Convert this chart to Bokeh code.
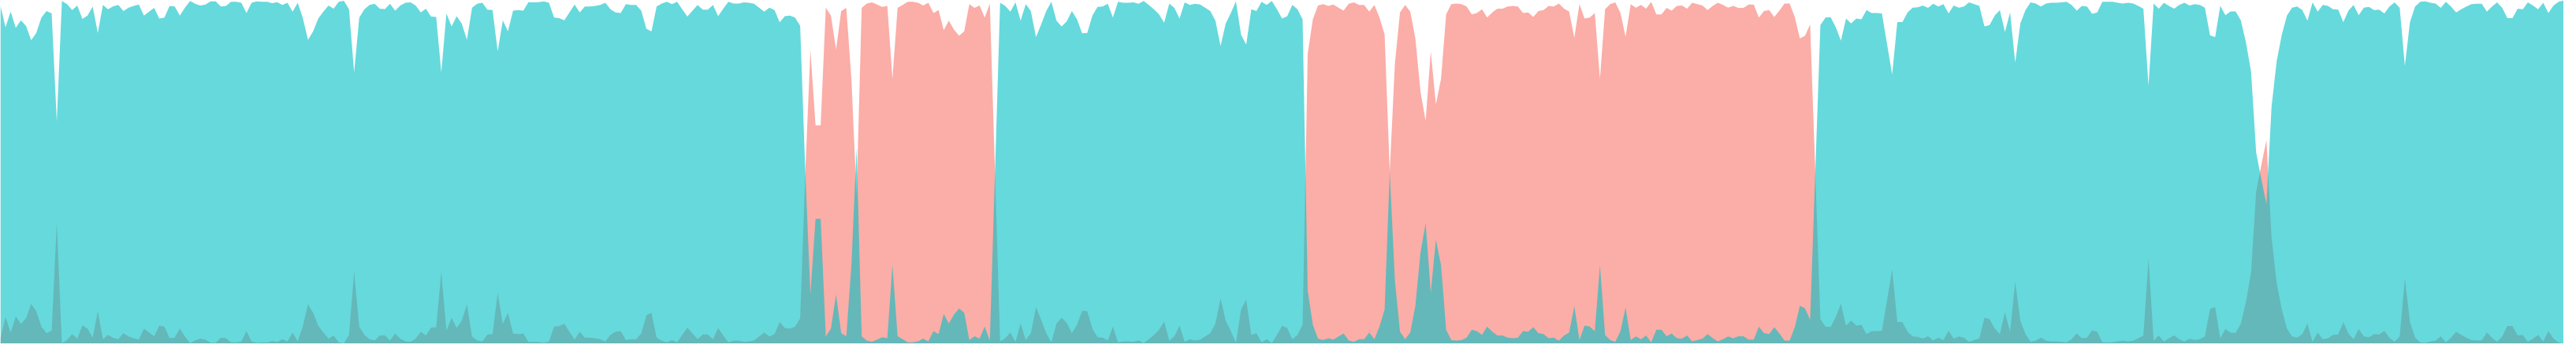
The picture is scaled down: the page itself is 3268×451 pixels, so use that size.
from bokeh.plotting import figure
from bokeh.models import ColumnDataSource, Range1d
from bokeh.embed import file_html
from bokeh.resources import INLINE

# Probability of the salmon class per sample
salmon = [
    .015,.078,.033,.080,.058,.074,.116,.095,.050,.031,
    .038,.353,.002,.011,.028,.015,.054,.044,.018,.095,
    .013,.026,.017,.013,.031,.021,.016,.012,.044,.033,
    .022,.053,.050,.016,.018,.044,.021,.002,.010,.015,
    .012,.003,.003,.018,.016,.004,.004,.007,.037,.007,
    .003,.004,.004,.008,.005,.013,.007,.033,.007,.052,
    .115,.090,.053,.033,.015,.024,.004,.001,.026,.210,
    .050,.026,.013,.010,.024,.025,.010,.030,.015,.007,
    .006,.015,.035,.024,.047,.048,.210,.038,.076,.046,
    .068,.115,.021,.010,.007,.027,.028,.148,.058,.090,
    .030,.028,.030,.005,.006,.005,.003,.007,.050,.052,
    .058,.035,.012,.035,.018,.018,.016,.013,.007,.026,
    .035,.037,.011,.013,.013,.030,.083,.090,.018,.009,
    .004,.011,.004,.026,.047,.030,.013,.027,.027,.013,
    .046,.024,.004,.009,.009,.006,.007,.010,.021,.033,
    .021,.028,.064,.046,.044,.050,.074,.500,.856,.636,
    .636,.979,.956,.857,.969,.978,.770,.430,.978,.991,
    .994,.988,.981,.984,.771,.978,.987,.996,.996,.993,
    .985,.993,.963,.972,.913,.941,.915,.897,.910,.989,
    .978,.985,.950,.991,.500,.007,.016,.033,.006,.059,
    .011,.031,.107,.070,.031,.004,.059,.076,.061,.031,
    .055,.096,.095,.044,.019,.018,.010,.050,.004,.007,
    .007,.006,.010,.002,.013,.026,.041,.065,.009,.022,
    .053,.006,.013,.010,.012,.021,.031,.059,.133,.068,
    .037,.003,.100,.129,.026,.031,.004,.013,.002,.026,
    .053,.046,.013,.026,.055,.845,.945,.985,.989,.984,
    .988,.979,.970,.990,.994,.987,.987,.967,.987,.950,
    .900,.500,.815,.965,.987,.967,.889,.734,.649,.852,
    .697,.771,.959,.989,.991,.989,.982,.959,.963,.974,
    .950,.965,.976,.976,.982,.984,.982,.963,.965,.952,
    .969,.972,.984,.982,.991,.976,.967,.891,.989,.947,
    .950,.963,.771,.974,.989,.994,.963,.894,.989,.979,
    .987,.976,.996,.959,.959,.978,.970,.984,.985,.976,
    .993,.989,.985,.972,.984,.993,.987,.979,.984,.978,
    .978,.988,.988,.950,.969,.972,.952,.970,.991,.991,
    .952,.889,.897,.930,.500,.072,.050,.049,.078,.117,
    .053,.067,.053,.055,.028,.037,.037,.038,.127,.216,
    .063,.063,.035,.021,.020,.015,.022,.010,.018,.011,
    .038,.015,.021,.018,.006,.011,.016,.076,.072,.044,
    .028,.092,.035,.181,.067,.028,.006,.009,.018,.009,
    .007,.007,.006,.004,.013,.030,.016,.018,.039,.035,
    .004,.004,.004,.007,.009,.007,.009,.016,.024,.248,
    .009,.024,.007,.016,.024,.013,.007,.015,.011,.013,
    .021,.102,.107,.016,.043,.032,.032,.058,.122,.207,
    .443,.520,.593,.310,.177,.100,.044,.021,.018,.028,
    .059,.006,.033,.013,.016,.026,.027,.063,.030,.013,
    .043,.021,.019,.028,.027,.038,.018,.006,.022,.191,
    .063,.018,.004,.003,.007,.009,.022,.004,.018,.035,
    .026,.018,.011,.010,.010,.033,.018,.006,.022,.052,
    .052,.024,.026,.006,.015,.026,.007,.037,.015,.004,
    .000,
]

# Probability of the teal class per sample
teal = [
    .985,.922,.967,.920,.942,.926,.884,.905,.950,.969,
    .962,.647,.998,.989,.972,.985,.946,.956,.982,.905,
    .987,.974,.983,.987,.969,.979,.984,.988,.956,.967,
    .978,.947,.950,.984,.982,.956,.979,.998,.990,.985,
    .988,.997,.997,.982,.984,.996,.996,.993,.963,.993,
    .997,.996,.996,.992,.995,.987,.993,.967,.993,.948,
    .885,.910,.947,.967,.985,.976,.996,.999,.974,.790,
    .950,.974,.987,.990,.976,.975,.990,.970,.985,.993,
    .994,.985,.965,.976,.953,.952,.790,.962,.924,.954,
    .932,.885,.979,.990,.993,.973,.972,.852,.942,.910,
    .970,.972,.970,.995,.994,.995,.997,.993,.950,.948,
    .942,.965,.988,.965,.982,.982,.984,.987,.993,.974,
    .965,.963,.989,.987,.987,.970,.917,.910,.982,.991,
    .996,.989,.996,.974,.953,.970,.987,.973,.973,.987,
    .954,.976,.996,.991,.991,.994,.993,.990,.979,.967,
    .979,.972,.936,.954,.956,.950,.926,.500,.144,.364,
    .364,.021,.044,.143,.031,.022,.230,.570,.022,.009,
    .006,.012,.019,.016,.229,.022,.013,.004,.004,.007,
    .015,.007,.037,.028,.087,.059,.085,.103,.090,.011,
    .022,.015,.050,.009,.500,.993,.984,.967,.994,.941,
    .989,.969,.893,.930,.969,.996,.941,.924,.939,.969,
    .945,.904,.905,.956,.981,.982,.990,.950,.996,.993,
    .993,.994,.990,.998,.987,.974,.959,.935,.991,.978,
    .947,.994,.987,.990,.988,.979,.969,.941,.867,.932,
    .963,.997,.900,.871,.974,.969,.996,.987,.998,.974,
    .947,.954,.987,.974,.945,.155,.055,.015,.011,.016,
    .012,.021,.030,.010,.006,.013,.013,.033,.013,.050,
    .100,.500,.185,.035,.013,.033,.111,.266,.351,.148,
    .303,.229,.041,.011,.009,.011,.018,.041,.037,.026,
    .050,.035,.024,.024,.018,.016,.018,.037,.035,.048,
    .031,.028,.016,.018,.009,.024,.033,.109,.011,.053,
    .050,.037,.229,.026,.011,.006,.037,.106,.011,.021,
    .013,.024,.004,.041,.041,.022,.030,.016,.015,.024,
    .007,.011,.015,.028,.016,.007,.013,.021,.016,.022,
    .022,.012,.012,.050,.031,.028,.048,.030,.009,.009,
    .048,.111,.103,.070,.500,.928,.950,.951,.922,.883,
    .947,.933,.947,.945,.972,.963,.963,.962,.873,.784,
    .937,.937,.965,.979,.980,.985,.978,.990,.982,.989,
    .962,.985,.979,.982,.994,.989,.984,.924,.928,.956,
    .972,.908,.965,.819,.933,.972,.994,.991,.982,.991,
    .993,.993,.994,.996,.987,.970,.984,.982,.961,.965,
    .996,.996,.996,.993,.991,.993,.991,.984,.976,.752,
    .991,.976,.993,.984,.976,.987,.993,.985,.989,.987,
    .979,.898,.893,.984,.957,.968,.968,.942,.878,.793,
    .557,.480,.407,.690,.823,.900,.956,.979,.982,.972,
    .941,.994,.967,.987,.984,.974,.973,.937,.970,.987,
    .957,.979,.981,.972,.973,.962,.982,.994,.978,.809,
    .937,.982,.996,.997,.993,.991,.978,.996,.982,.965,
    .974,.982,.989,.990,.990,.967,.982,.994,.978,.948,
    .948,.976,.974,.994,.985,.974,.993,.963,.985,.996,
    1.000,
]

sample = list(range(len(teal)))

source = ColumnDataSource(dict(sample=sample, teal=teal, salmon=salmon))

p = figure(
    width=3252, height=435,
    x_range=Range1d(sample[0], sample[-1]),
    y_range=Range1d(0, 1),
    x_axis_type=None, y_axis_type=None,
    toolbar_location=None, output_backend="svg",
    min_border=0, outline_line_color=None,
    background_fill_color="white", border_fill_color="white",
)
p.grid.visible = False

p.varea(x="sample", y1=0, y2="salmon", source=source,
        fill_color="#F8766D", fill_alpha=0.6)
p.varea(x="sample", y1=0, y2="teal", source=source,
        fill_color="#00BFC4", fill_alpha=0.6)

open("out.html", "w").write(file_html(p, INLINE))
